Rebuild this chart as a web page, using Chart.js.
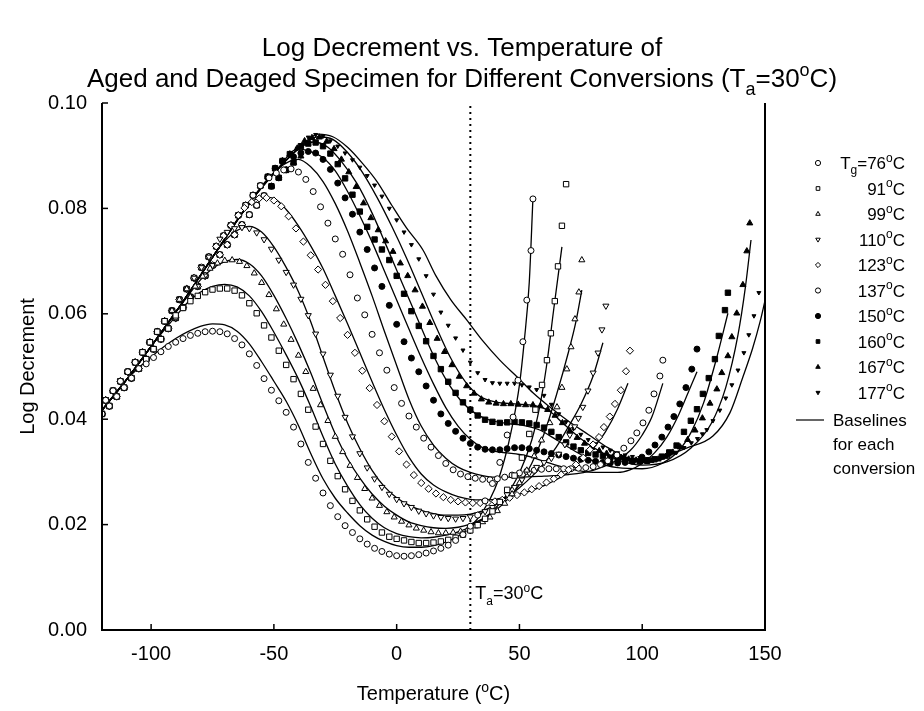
<!DOCTYPE html>
<html>
<head>
<meta charset="utf-8">
<title>Log Decrement vs. Temperature</title>
<script src="https://cdn.jsdelivr.net/npm/chart.js@4.4.1/dist/chart.umd.min.js"></script>
<style>
  html, body { margin: 0; padding: 0; background: #fff; }
  #wrap { position: relative; width: 924px; height: 711px; }
</style>
</head>
<body>
<div id="wrap"><canvas id="chart" width="924" height="711"></canvas></div>
<script>
// ---- data: [temperature (°C), log decrement] ----
const xTicks = [-100, -50, 0, 50, 100, 150];
const yTicks = [0, 0.02, 0.04, 0.06, 0.08, 0.10];
const agingTemp = 30;

const seriesLabels = ['T_g=76^oC', '91^oC', '99^oC', '110^oC', '123^oC', '137^oC', '150^oC', '160^oC', '167^oC', '177^oC'];

// shared rising flank (all conversions lie on it below their peak)
const riseLow = [[-120,0.0410],[-117,0.0425],[-114,0.0443],[-111,0.0460],[-108,0.0478],[-105,0.0496],[-102,0.0514],[-99,0.0533],[-96,0.0552],[-93,0.0572],[-90,0.0592],[-87,0.0612],[-84,0.0632],[-81,0.0652],[-78,0.0672],[-75,0.0692],[-72,0.0712],[-69,0.0731],[-66,0.0750],[-63,0.0769],[-60,0.0788],[-57,0.0806],[-54,0.0824],[-51,0.0842],[-48,0.0858],[-45,0.0873],[-42,0.0887],[-39,0.0899],[-36,0.0908]];
const riseHigh = [[-118.5,0.0436],[-115.5,0.0454],[-112.5,0.0472],[-109.5,0.0490],[-106.5,0.0508],[-103.5,0.0527],[-100.5,0.0546],[-97.5,0.0566],[-94.5,0.0586],[-91.5,0.0606],[-88.5,0.0627],[-85.5,0.0647],[-82.5,0.0668],[-79.5,0.0688],[-76.5,0.0708],[-73.5,0.0728],[-70.5,0.0748],[-67.5,0.0768],[-64.5,0.0787],[-61.5,0.0806],[-58.5,0.0825],[-55.5,0.0843],[-52.5,0.0860],[-49.5,0.0876],[-46.5,0.0890],[-43.5,0.0903],[-40.5,0.0914],[-37.5,0.0924],[-34.5,0.0930]];

const s76 = [[-102,0.0505],[-99,0.0517],[-96,0.0528],[-93,0.0538],[-90,0.0546],[-87,0.0553],[-84,0.0559],[-81,0.0563],[-78,0.0566],[-75,0.0567],[-72,0.0566],[-69,0.0562],[-66,0.0553],[-63,0.0541],[-60,0.0524],[-57,0.0502],[-54,0.0477],[-51,0.0455],[-48,0.0435],[-45,0.0413],[-42,0.0385],[-39,0.0353],[-36,0.0318],[-33,0.0288],[-30,0.0260],[-27,0.0236],[-24,0.0215],[-21,0.0198],[-18,0.0185],[-15,0.0173],[-12,0.0163],[-9,0.0155],[-6,0.0149],[-3,0.0144],[0,0.0141],[3,0.0140],[6,0.0141],[9,0.0143],[12,0.0146],[15,0.0150],[18,0.0155],[21,0.0161],[24,0.0170],[27,0.0181],[30,0.0197],[33,0.0218],[36,0.0245],[39,0.0278],[42,0.0318],[45,0.0370],[47.4,0.0404],[49.4,0.0474],[51.4,0.0547],[53,0.0626],[54.7,0.0720],[55.5,0.0818]];
const s91 = [[-90,0.0597],[-87,0.0611],[-84,0.0624],[-81,0.0634],[-78,0.0641],[-75,0.0646],[-72,0.0648],[-69,0.0648],[-66,0.0644],[-63,0.0635],[-60,0.0620],[-57,0.0601],[-54,0.0578],[-51,0.0555],[-48,0.0530],[-45,0.0503],[-42,0.0476],[-39,0.0448],[-36,0.0418],[-33,0.0386],[-30,0.0353],[-27,0.0321],[-24,0.0292],[-21,0.0267],[-18,0.0245],[-15,0.0227],[-12,0.0210],[-9,0.0196],[-6,0.0185],[-3,0.0177],[0,0.0173],[3,0.0170],[6,0.0167],[9,0.0165],[12,0.0165],[15,0.0166],[18,0.0168],[21,0.0171],[24,0.0175],[27,0.0181],[30,0.0189],[33,0.0199],[36,0.0211],[39,0.0225],[42,0.0243],[45,0.0266],[48,0.0293],[51,0.0327],[54,0.0372],[56.5,0.0418],[59.2,0.0465],[61.2,0.0512],[62.8,0.0563],[64.4,0.0624],[65.7,0.0690],[67.3,0.0767],[69,0.0846]];
const s99 = [[-82,0.0652],[-79,0.0671],[-76,0.0686],[-73,0.0696],[-70,0.0701],[-67,0.0702],[-64,0.0699],[-61,0.0691],[-58,0.0677],[-55,0.0659],[-52,0.0636],[-49,0.0609],[-46,0.0580],[-43,0.0551],[-40,0.0521],[-37,0.0490],[-34,0.0458],[-31,0.0427],[-28,0.0397],[-25,0.0367],[-22,0.0338],[-19,0.0312],[-16,0.0289],[-13,0.0268],[-10,0.0250],[-7,0.0236],[-4,0.0224],[-1,0.0214],[2,0.0206],[5,0.0199],[8,0.0193],[11,0.0189],[14,0.0186],[17,0.0184],[20,0.0184],[23,0.0185],[26,0.0187],[29,0.0191],[32,0.0197],[35,0.0205],[38,0.0214],[41,0.0226],[44,0.0240],[47,0.0258],[50,0.0279],[53,0.0303],[56,0.0330],[59,0.0360],[62.4,0.0393],[65.3,0.0423],[67.3,0.0460],[69.3,0.0495],[71,0.0537],[72.6,0.0590],[74.2,0.0641],[75.4,0.0702]];
const s110 = [[-72,0.0742],[-69,0.0755],[-66,0.0762],[-63,0.0764],[-60,0.0762],[-57,0.0754],[-54,0.0741],[-51,0.0723],[-48,0.0702],[-45,0.0679],[-42,0.0655],[-39,0.0628],[-36,0.0597],[-33,0.0562],[-30,0.0524],[-27,0.0484],[-24,0.0444],[-21,0.0404],[-18,0.0367],[-15,0.0335],[-12,0.0308],[-9,0.0287],[-6,0.0271],[-3,0.0258],[0,0.0248],[3,0.0240],[6,0.0233],[9,0.0226],[12,0.0221],[15,0.0217],[18,0.0214],[21,0.0212],[24,0.0211],[27,0.0212],[30,0.0215],[33,0.0219],[36,0.0225],[39,0.0233],[42,0.0244],[45,0.0257],[48,0.0271],[51,0.0285],[54,0.0298],[57,0.0309],[60,0.0318],[63,0.0326],[66,0.0334],[68.5,0.0352],[70.5,0.0370],[72.5,0.0386],[74,0.0402],[75.8,0.0423],[77.9,0.0454],[80,0.0488],[82,0.0526],[83.6,0.0570],[85.2,0.0615]];
const s123 = [[-62,0.0801],[-59,0.0812],[-56,0.0819],[-53,0.0820],[-50,0.0815],[-47,0.0804],[-44,0.0785],[-41,0.0762],[-38,0.0737],[-35,0.0711],[-32,0.0684],[-29,0.0655],[-26,0.0624],[-23,0.0592],[-20,0.0560],[-17,0.0526],[-14,0.0492],[-11,0.0459],[-8,0.0427],[-5,0.0396],[-2,0.0367],[1,0.0339],[4,0.0314],[7,0.0294],[10,0.0279],[13,0.0268],[16,0.0259],[19,0.0252],[22,0.0247],[25,0.0244],[28,0.0242],[31,0.0241],[34,0.0241],[37,0.0242],[40,0.0244],[43,0.0247],[46,0.0251],[49,0.0256],[52,0.0261],[55,0.0267],[58,0.0273],[61,0.0280],[64,0.0287],[67,0.0295],[70,0.0304],[73,0.0314],[76,0.0327],[78.7,0.0342],[80,0.0352],[82.4,0.0366],[84.4,0.0385],[86.8,0.0405],[88.9,0.0429],[91.3,0.0455],[93.4,0.0491],[95,0.0530]];
const s137 = [[-52,0.0858],[-49,0.0867],[-46,0.0873],[-43,0.0875],[-40,0.0869],[-37,0.0855],[-34,0.0832],[-31,0.0803],[-28,0.0772],[-25,0.0742],[-22,0.0713],[-19,0.0674],[-16,0.0630],[-13,0.0598],[-10,0.0561],[-7,0.0526],[-4,0.0493],[-1,0.0460],[2,0.0430],[5,0.0406],[8,0.0385],[11,0.0364],[14,0.0347],[17,0.0331],[20,0.0316],[23,0.0304],[26,0.0296],[29,0.0291],[32,0.0288],[35,0.0286],[38,0.0285],[41,0.0287],[44,0.0290],[47,0.0294],[50,0.0298],[53,0.0301],[56,0.0303],[59,0.0305],[62,0.0306],[65,0.0306],[68,0.0306],[71,0.0306],[74,0.0307],[77,0.0308],[80,0.0310],[83,0.0314],[86,0.0321],[89.7,0.0332],[92.5,0.0345],[95.4,0.0359],[97.8,0.0374],[100.3,0.0393],[102.7,0.0417],[104.8,0.0448],[107.2,0.0482],[108.4,0.0512]];
const s150 = [[-42,0.0898],[-39,0.0905],[-36,0.0908],[-33,0.0905],[-30,0.0893],[-27,0.0874],[-24,0.0848],[-21,0.0820],[-18,0.0789],[-15,0.0755],[-12,0.0722],[-9,0.0687],[-6,0.0652],[-3,0.0616],[0,0.0580],[3,0.0547],[6,0.0516],[9,0.0490],[12,0.0463],[15,0.0436],[18,0.0410],[21,0.0392],[24,0.0377],[27,0.0364],[30,0.0354],[33,0.0347],[36,0.0343],[39,0.0342],[42,0.0342],[45,0.0344],[48,0.0346],[51,0.0346],[54,0.0344],[57,0.0341],[60,0.0338],[63,0.0335],[66,0.0332],[69,0.0329],[72,0.0326],[75,0.0324],[78,0.0322],[81,0.0320],[84,0.0318],[87,0.0317],[90,0.0317],[93,0.0318],[96,0.0320],[99.9,0.0328],[102.7,0.0338],[105.2,0.0351],[108,0.0366],[110.5,0.0385],[112.9,0.0405],[115.3,0.0429],[117.8,0.0460],[120.2,0.0495],[122.3,0.0533]];
const s160 = [[-39,0.0918],[-36,0.0923],[-33,0.0925],[-30,0.0918],[-27,0.0904],[-24,0.0884],[-21,0.0857],[-18,0.0826],[-15,0.0794],[-12,0.0765],[-9,0.0741],[-6,0.0722],[-3,0.0702],[0,0.0672],[3,0.0638],[6,0.0605],[9,0.0577],[12,0.0548],[15,0.0520],[18,0.0495],[21,0.0471],[24,0.0450],[27,0.0432],[30,0.0418],[33,0.0407],[36,0.0399],[39,0.0395],[42,0.0393],[45,0.0394],[48,0.0395],[51,0.0394],[54,0.0392],[57,0.0389],[60,0.0384],[63,0.0376],[66,0.0366],[69,0.0356],[72,0.0348],[75,0.0341],[78,0.0336],[81,0.0333],[84,0.0330],[87,0.0327],[90,0.0325],[93,0.0323],[96,0.0321],[99,0.0320],[102,0.0321],[105,0.0324],[108,0.0329],[111,0.0337],[114,0.0350],[117,0.0376],[119.8,0.0397],[122.3,0.0419],[124.7,0.0448],[127.1,0.0478],[129.6,0.0514],[131.2,0.0558],[133.7,0.0607],[134.9,0.0640]];
const s167 = [[-37.5,0.0928],[-34.5,0.0934],[-31.5,0.0935],[-28.5,0.0927],[-25.5,0.0913],[-22.5,0.0893],[-19.5,0.0869],[-16.5,0.0841],[-13.5,0.0810],[-10.5,0.0782],[-7.5,0.0759],[-4.5,0.0738],[-1.5,0.0718],[1.5,0.0696],[4.5,0.0672],[7.5,0.0645],[10.5,0.0614],[13.5,0.0583],[16.5,0.0553],[19.5,0.0528],[22.5,0.0503],[25.5,0.0481],[28.5,0.0463],[31.5,0.0449],[34.5,0.0438],[37.5,0.0432],[40.5,0.0430],[43.5,0.0429],[46.5,0.0429],[49.5,0.0428],[52.5,0.0427],[55.5,0.0427],[58.5,0.0425],[61.5,0.0418],[64.5,0.0407],[67.5,0.0393],[70.5,0.0378],[73.5,0.0365],[76.5,0.0354],[79.5,0.0346],[82.5,0.0340],[85.5,0.0335],[88.5,0.0331],[91.5,0.0327],[94.5,0.0324],[97.5,0.0322],[100.5,0.0321],[103.5,0.0321],[106.5,0.0324],[109.5,0.0329],[112.5,0.0337],[115.5,0.0347],[118.5,0.0361],[121.5,0.0379],[124.5,0.0402],[127.6,0.0430],[130.4,0.0457],[132.4,0.0488],[134.9,0.0520],[136.5,0.0556],[138.5,0.0601],[141,0.0655],[142.6,0.0719],[143.8,0.0772]];
const s177 = [[-36,0.0935],[-33,0.0940],[-30,0.0937],[-27,0.0928],[-24,0.0918],[-21,0.0905],[-18,0.0892],[-15,0.0878],[-12,0.0862],[-9,0.0844],[-6,0.0823],[-3,0.0800],[0,0.0778],[3,0.0755],[6,0.0731],[9,0.0704],[12,0.0672],[15,0.0637],[18,0.0603],[21,0.0578],[24,0.0554],[27,0.0531],[30,0.0508],[33,0.0488],[36,0.0475],[39,0.0469],[42,0.0468],[45,0.0468],[48,0.0468],[51,0.0465],[54,0.0461],[57,0.0456],[60,0.0445],[63,0.0428],[66,0.0410],[69,0.0395],[72,0.0382],[75,0.0371],[78,0.0361],[81,0.0353],[84,0.0347],[87,0.0341],[90,0.0336],[93,0.0332],[96,0.0329],[99,0.0327],[102,0.0325],[105,0.0325],[108,0.0327],[111,0.0331],[114,0.0337],[117,0.0346],[120,0.0355],[122.5,0.0363],[124.5,0.0372],[126.3,0.0380],[128.8,0.0397],[131.6,0.0417],[134,0.0440],[136.5,0.0465],[139,0.0493],[141.4,0.0526],[143.4,0.0560],[145.5,0.0596],[147.5,0.0640]];

// baselines (solid curves)
const baseRise = [[-120,0.0417],[-110,0.0475],[-100,0.0538],[-90,0.0603],[-80,0.0672],[-70,0.0742],[-60,0.0810],[-50,0.0866],[-40,0.0913]];
const b76 = [[-100,0.0518],[-90,0.0553],[-80,0.0576],[-75,0.0581],[-70,0.0579],[-65,0.0567],[-60,0.0543],[-55,0.0509],[-50,0.0472],[-45,0.0434],[-40,0.0388],[-35,0.0335],[-30,0.0287],[-25,0.0250],[-20,0.0222],[-15,0.0198],[-10,0.0180],[-5,0.0168],[0,0.0160],[5,0.0157],[10,0.0157],[15,0.0160],[20,0.0167],[25,0.0178],[30,0.0196],[35,0.0224],[40,0.0268],[44,0.0325],[47,0.0385],[50,0.0465],[52,0.0550],[54,0.0660],[55.5,0.0820]];
const b91 = [[-90,0.0595],[-85,0.0622],[-80,0.0641],[-75,0.0652],[-70,0.0656],[-65,0.0651],[-60,0.0634],[-55,0.0604],[-50,0.0565],[-45,0.0522],[-40,0.0476],[-35,0.0424],[-30,0.0367],[-25,0.0315],[-20,0.0273],[-15,0.0238],[-10,0.0212],[-5,0.0194],[0,0.0183],[5,0.0177],[10,0.0175],[15,0.0176],[20,0.0180],[25,0.0186],[30,0.0196],[35,0.0210],[40,0.0230],[45,0.0258],[50,0.0298],[55,0.0360],[58,0.0418],[61,0.0500],[64,0.0610],[67.3,0.0727]];
const b99 = [[-85,0.0634],[-80,0.0664],[-75,0.0686],[-70,0.0699],[-65,0.0703],[-60,0.0695],[-55,0.0672],[-50,0.0635],[-45,0.0591],[-40,0.0542],[-35,0.0488],[-30,0.0428],[-25,0.0372],[-20,0.0325],[-15,0.0288],[-10,0.0258],[-5,0.0235],[0,0.0218],[5,0.0205],[10,0.0198],[15,0.0194],[20,0.0193],[25,0.0195],[30,0.0201],[35,0.0211],[40,0.0226],[45,0.0247],[50,0.0276],[55,0.0316],[60,0.0372],[65,0.0445],[70,0.0528],[73,0.0585],[75.4,0.0645]];
const b110 = [[-75,0.0708],[-70,0.0738],[-65,0.0758],[-60,0.0766],[-55,0.0755],[-50,0.0727],[-45,0.0688],[-40,0.0642],[-35,0.0585],[-30,0.0518],[-25,0.0452],[-20,0.0393],[-15,0.0344],[-10,0.0303],[-5,0.0272],[0,0.0251],[5,0.0237],[10,0.0227],[15,0.0221],[20,0.0218],[25,0.0218],[30,0.0220],[35,0.0226],[40,0.0237],[45,0.0252],[50,0.0270],[55,0.0291],[60,0.0316],[65,0.0347],[70,0.0386],[75,0.0428],[80,0.0482],[84,0.0545]];
const b123 = [[-65,0.0778],[-60,0.0808],[-55,0.0822],[-50,0.0819],[-45,0.0798],[-40,0.0767],[-35,0.0729],[-30,0.0686],[-25,0.0634],[-20,0.0581],[-15,0.0526],[-10,0.0471],[-5,0.0418],[0,0.0370],[5,0.0328],[10,0.0296],[15,0.0275],[20,0.0262],[25,0.0253],[30,0.0248],[35,0.0247],[40,0.0248],[45,0.0252],[50,0.0258],[55,0.0265],[60,0.0274],[65,0.0285],[70,0.0300],[75,0.0320],[80,0.0345],[85,0.0376],[90,0.0420],[94.2,0.0468]];
const b137 = [[-55,0.0842],[-50,0.0868],[-45,0.0886],[-40,0.0893],[-35,0.0879],[-30,0.0851],[-25,0.0809],[-20,0.0757],[-15,0.0697],[-10,0.0634],[-5,0.0567],[0,0.0502],[5,0.0438],[10,0.0387],[15,0.0351],[20,0.0326],[25,0.0309],[30,0.0299],[35,0.0293],[40,0.0290],[50,0.0290],[60,0.0292],[70,0.0295],[80,0.0303],[88,0.0318],[95,0.0340],[100,0.0370],[104,0.0405],[108.4,0.0468]];
const b150 = [[-36,0.0909],[-30,0.0896],[-25,0.0871],[-20,0.0832],[-15,0.0786],[-10,0.0736],[-5,0.0681],[0,0.0626],[5,0.0571],[10,0.0517],[15,0.0467],[20,0.0422],[25,0.0387],[30,0.0362],[35,0.0346],[40,0.0339],[45,0.0336],[50,0.0333],[55,0.0328],[60,0.0320],[70,0.0306],[80,0.0299],[90,0.0299],[95,0.0304],[100,0.0316],[105,0.0336],[110,0.0366],[115,0.0410],[120,0.0465],[122.3,0.0490]];
const b160 = [[-34,0.0926],[-28,0.0916],[-22,0.0886],[-16,0.0846],[-10,0.0791],[-4,0.0727],[2,0.0661],[8,0.0596],[14,0.0531],[20,0.0476],[26,0.0436],[32,0.0411],[38,0.0398],[45,0.0392],[52,0.0388],[58,0.0380],[65,0.0361],[72,0.0341],[80,0.0321],[90,0.0308],[100,0.0306],[108,0.0316],[115,0.0341],[120,0.0376],[125,0.0431],[130,0.0511],[134.9,0.0601]];
const b167 = [[-32,0.0936],[-26,0.0931],[-20,0.0906],[-14,0.0869],[-8,0.0821],[-2,0.0766],[4,0.0706],[10,0.0641],[16,0.0576],[22,0.0516],[28,0.0471],[34,0.0443],[40,0.0433],[48,0.0429],[56,0.0426],[62,0.0416],[68,0.0391],[75,0.0363],[82,0.0341],[90,0.0323],[100,0.0313],[110,0.0319],[120,0.0346],[128,0.0391],[134,0.0460],[139,0.0560],[142,0.0650],[144.3,0.0740]];
const b177 = [[-32,0.0941],[-26,0.0936],[-20,0.0916],[-14,0.0886],[-8,0.0851],[-2,0.0806],[4,0.0763],[10.7,0.0721],[16,0.0672],[22,0.0627],[28.6,0.0588],[35,0.0549],[42,0.0512],[50,0.0476],[55.5,0.0450],[62.4,0.0423],[70,0.0396],[78,0.0371],[86,0.0346],[94,0.0326],[100,0.0318],[107,0.0326],[118,0.0345],[128.8,0.0368],[135.7,0.0412],[141,0.0480],[145,0.0535],[148,0.0585],[150,0.0625]];

const markerSeries = [s76, s91, s99, s110, s123, s137, s150, s160, s167, s177];
const baselineSeries = [b76, b91, b99, b110, b123, b137, b150, b160, b167, b177];

// ---- styling ----
const FONT = '"Liberation Sans", Arial, Helvetica, sans-serif';
const markerLook = [
  { pointStyle: 'circle', radius: 3, rotation: 0, filled: false },
  { pointStyle: 'rect', radius: 3.8, rotation: 0, filled: false },
  { pointStyle: 'triangle', radius: 3.5, rotation: 0, filled: false },
  { pointStyle: 'triangle', radius: 3.5, rotation: 180, filled: false },
  { pointStyle: 'rectRot', radius: 3.6, rotation: 0, filled: false },
  { pointStyle: 'circle', radius: 3, rotation: 0, filled: false },
  { pointStyle: 'circle', radius: 3, rotation: 0, filled: true },
  { pointStyle: 'rect', radius: 3.8, rotation: 0, filled: true },
  { pointStyle: 'triangle', radius: 3.5, rotation: 0, filled: true },
  { pointStyle: 'triangle', radius: 2.3, rotation: 180, filled: true },
];

const toXY = arr => arr.map(([x, y]) => ({ x, y }));

function markerData(own) {
  const start = own[0][0];
  return toXY(riseLow.filter(p => p[0] < start)
    .concat(riseHigh.filter(p => p[0] < start - 1.5), own));
}

function baselineData(own) {
  const start = own[0][0];
  return toXY(baseRise.filter(p => p[0] < start).concat(own));
}

const datasets = [];
markerSeries.forEach((s, i) => {
  const m = markerLook[i];
  datasets.push({
    label: seriesLabels[i],
    data: markerData(s),
    showLine: false,
    pointStyle: m.pointStyle,
    pointRotation: m.rotation,
    pointRadius: m.radius,
    pointBorderWidth: 1,
    pointBorderColor: '#000',
    pointBackgroundColor: m.filled ? '#000' : '#fff',
  });
});
baselineSeries.forEach((b, i) => {
  datasets.push({
    label: 'baseline ' + seriesLabels[i],
    data: baselineData(b),
    showLine: true,
    pointRadius: 0,
    borderColor: '#000',
    borderWidth: 1.3,
    cubicInterpolationMode: 'monotone',
  });
});
datasets.push({
  label: 'Ta',
  data: [{ x: agingTemp, y: yTicks[0] }, { x: agingTemp, y: yTicks[yTicks.length - 1] }],
  showLine: true,
  pointRadius: 0,
  borderColor: '#000',
  borderWidth: 2,
  borderDash: [2, 4],
});

// text with _x subscript and ^x superscript
function drawRich(ctx, text, x, y, size, align) {
  const parts = [];
  for (let i = 0; i < text.length; i++) {
    const c = text[i];
    if ((c === '_' || c === '^') && i + 1 < text.length) {
      parts.push({ s: text[i + 1], k: c });
      i++;
    } else if (parts.length && !parts[parts.length - 1].k) {
      parts[parts.length - 1].s += c;
    } else {
      parts.push({ s: c, k: '' });
    }
  }
  const fontFor = k => (k ? Math.round(size * 0.68) : size) + 'px ' + FONT;
  let w = 0;
  parts.forEach(p => { ctx.font = fontFor(p.k); p.w = ctx.measureText(p.s).width; w += p.w; });
  let cx = align === 'center' ? x - w / 2 : align === 'right' ? x - w : x;
  ctx.textAlign = 'left';
  ctx.textBaseline = 'alphabetic';
  parts.forEach(p => {
    ctx.font = fontFor(p.k);
    const dy = p.k === '_' ? size * 0.32 : p.k === '^' ? -size * 0.42 : 0;
    ctx.fillText(p.s, cx, y + dy);
    cx += p.w;
  });
}

const decor = {
  id: 'decor',
  afterDraw(chart) {
    const { ctx, chartArea: a, scales: { x, y } } = chart;
    ctx.save();
    ctx.strokeStyle = '#000';
    ctx.fillStyle = '#000';

    // axes frame (left, bottom, right)
    ctx.lineWidth = 2;
    ctx.beginPath();
    ctx.moveTo(a.left, a.top);
    ctx.lineTo(a.left, a.bottom);
    ctx.lineTo(a.right, a.bottom);
    ctx.lineTo(a.right, a.top);
    ctx.stroke();

    // inward ticks
    ctx.lineWidth = 1.5;
    x.ticks.forEach(t => {
      const px = x.getPixelForValue(t.value);
      ctx.beginPath(); ctx.moveTo(px, a.bottom); ctx.lineTo(px, a.bottom - 6); ctx.stroke();
    });
    y.ticks.forEach(t => {
      const py = y.getPixelForValue(t.value);
      ctx.beginPath(); ctx.moveTo(a.left, py); ctx.lineTo(a.left + 6, py); ctx.stroke();
    });

    // titles
    drawRich(ctx, 'Log Decrement vs. Temperature of', 462, 56, 26, 'center');
    drawRich(ctx, 'Aged and Deaged Specimen for Different Conversions (T_a=30^oC)', 462, 87, 26, 'center');
    drawRich(ctx, 'Temperature (^oC)', (a.left + a.right) / 2, 700, 20, 'center');

    // aging temperature label
    drawRich(ctx, 'T_a=30^oC', x.getPixelForValue(agingTemp) + 5, y.getPixelForValue(0.0058), 18, 'left');

    // legend
    const lx = 818, right = 905, top = 163, step = 25.5;
    seriesLabels.forEach((lab, i) => {
      const m = markerLook[i];
      const cy = top + i * step;
      ctx.fillStyle = m.filled ? '#000' : '#fff';
      ctx.strokeStyle = '#000';
      ctx.lineWidth = 1;
      Chart.helpers.drawPoint(ctx, {
        pointStyle: m.pointStyle, radius: Math.min(m.radius, 2.6), rotation: m.rotation, borderWidth: 1,
      }, lx, cy);
      ctx.fillStyle = '#000';
      drawRich(ctx, lab, right, cy + 6, 17, 'right');
    });
    const by = top + seriesLabels.length * step + 2;
    ctx.lineWidth = 1.2;
    ctx.beginPath(); ctx.moveTo(796, by); ctx.lineTo(824, by); ctx.stroke();
    drawRich(ctx, 'Baselines', 833, by + 6, 17, 'left');
    drawRich(ctx, 'for each', 833, by + 30, 17, 'left');
    drawRich(ctx, 'conversion', 833, by + 54, 17, 'left');
    ctx.restore();
  },
};

new Chart(document.getElementById('chart'), {
  type: 'scatter',
  data: { datasets },
  options: {
    responsive: false,
    animation: false,
    devicePixelRatio: 1,
    layout: { padding: { top: 103, right: 159, left: 0, bottom: 0 } },
    plugins: { legend: { display: false }, tooltip: { enabled: false }, title: { display: false } },
    scales: {
      x: {
        type: 'linear',
        min: -120,
        max: 150,
        afterBuildTicks: scale => { scale.ticks = xTicks.map(v => ({ value: v })); },
        afterFit: scale => { scale.height = 81; },
        grid: { display: false, drawTicks: false },
        border: { display: false },
        ticks: { color: '#000', font: { family: FONT, size: 20 }, padding: 12, maxRotation: 0 },
      },
      y: {
        type: 'linear',
        min: 0,
        max: 0.1,
        afterBuildTicks: scale => { scale.ticks = yTicks.map(v => ({ value: v })); },
        afterFit: scale => { scale.width = 102; },
        grid: { display: false, drawTicks: false },
        border: { display: false },
        ticks: { color: '#000', font: { family: FONT, size: 20 }, padding: 15, callback: v => v.toFixed(2) },
        title: { display: true, text: 'Log Decrement', color: '#000', font: { family: FONT, size: 20 }, padding: { top: 16, bottom: 0 } },
      },
    },
  },
  plugins: [decor],
});
</script>
</body>
</html>
